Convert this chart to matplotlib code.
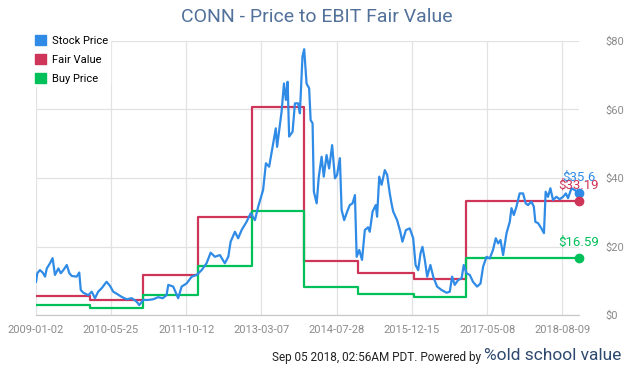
import matplotlib
matplotlib.use('Agg')
import matplotlib.pyplot as plt
from matplotlib.patches import Patch

plt.rcParams['font.family'] = ['Roboto', 'DejaVu Sans']

# eixo de categorias: um rótulo a cada 350 pontos
tick_pos = [0, 350, 700, 1050, 1400, 1750, 2100, 2450]
tick_labels = ['2009-01-02', '2010-05-25', '2011-10-12', '2013-03-07',
               '2014-07-28', '2015-12-15', '2017-05-08', '2018-08-09']

# preço da ação (índice, valor)
preco_idx = [2, 8, 20, 33, 44, 52, 67, 79, 90, 106, 117, 129, 145, 157, 168, 191, 203, 210,
             222, 245, 261, 276, 291, 307, 330, 346, 361, 380, 400, 423, 447, 470, 482, 501,
             524, 547, 570, 591, 609, 617, 640, 663, 679, 702, 726, 749, 772, 795, 814, 834,
             857, 880, 896, 907, 927, 942, 958, 981, 1000, 1020, 1035, 1058, 1071, 1086, 1105,
             1117, 1123, 1144, 1155, 1164, 1172, 1179, 1195, 1206, 1221, 1229, 1241, 1249,
             1260, 1272, 1279, 1288, 1294, 1307, 1317, 1330, 1340, 1353, 1365, 1379, 1392,
             1402, 1415, 1423, 1435, 1449, 1461, 1474, 1485, 1493, 1505, 1518, 1531, 1546,
             1554, 1567, 1582, 1588, 1598, 1609, 1624, 1635, 1647, 1655, 1663, 1681, 1694,
             1706, 1722, 1740, 1756, 1767, 1779, 1790, 1799, 1810, 1821, 1836, 1849, 1867,
             1888, 1911, 1926, 1937, 1949, 1965, 1981, 1991, 2004, 2019, 2034, 2053, 2069,
             2081, 2097, 2112, 2127, 2140, 2151, 2162, 2174, 2190, 2205, 2213, 2224, 2236,
             2251, 2267, 2279, 2290, 2306, 2317, 2324, 2337, 2352, 2364, 2372, 2383, 2394,
             2406, 2422, 2437, 2453, 2466, 2476, 2492, 2507, 2527]
preco = [9.7, 12.2, 13.1, 12.4, 11.2, 13.6, 15.1, 16.6, 11.7, 13.6, 12.2, 13.1, 14.6, 12.2,
         11.4, 11.2, 12.4, 7.3, 6.5, 5.8, 6.8, 4.9, 6.8, 7.8, 9.7, 8.5, 6.8, 6.1, 5.3, 4.6,
         4.9, 3.9, 2.9, 4.4, 4.4, 4.6, 5.2, 4.9, 5.8, 8.8, 8.3, 4.9, 8.3, 9.2, 11.2, 11.7,
         13.1, 15.1, 18.2, 17.0, 17.5, 15.1, 17.0, 21.4, 24.3, 22.4, 24.8, 27.2, 29.7, 27.7,
         31.6, 36.5, 44.3, 43.3, 50.1, 54.5, 49.1, 59.4, 67.6, 62.8, 68.1, 52.1, 53.5, 61.8,
         61.8, 58.9, 75.4, 77.6, 67.6, 66.2, 56.9, 56.0, 36.0, 32.6, 40.4, 46.2, 40.4, 46.7,
         42.8, 49.6, 39.9, 40.9, 45.8, 30.7, 27.7, 30.2, 32.1, 32.6, 35.0, 17.0, 19.0, 16.1,
         24.8, 25.6, 24.3, 30.2, 32.1, 28.7, 40.4, 38.0, 42.3, 40.9, 35.5, 32.6, 30.2, 27.7,
         24.8, 21.4, 24.8, 25.3, 22.4, 14.6, 13.1, 18.0, 19.9, 16.1, 11.2, 14.6, 11.2, 8.3,
         7.3, 6.5, 6.8, 11.2, 8.8, 10.2, 10.7, 14.6, 12.2, 11.7, 9.7, 8.3, 9.2, 14.1, 17.0,
         16.5, 19.0, 22.4, 20.9, 21.9, 17.5, 23.9, 27.2, 31.2, 29.2, 31.6, 35.5, 35.5, 32.6,
         32.1, 33.1, 31.6, 27.2, 26.8, 25.3, 23.9, 36.0, 34.5, 37.0, 33.6, 34.5, 33.8, 34.5,
         35.5, 34.1, 37.0, 36.5, 35.6]

# degraus do valor justo e do preço de compra
degrau_idx = [0, 253, 498, 755, 1006, 1247, 1498, 1759, 2000, 2527]
valor_justo = [5.5, 4.4, 11.7, 28.6, 60.8, 15.8, 12.2, 10.5, 33.19, 33.19]
preco_compra = [2.9, 2.0, 5.8, 14.3, 30.4, 8.1, 6.1, 5.3, 16.59, 16.59]

azul = '#2f8be6'
vermelho = '#cf3559'
verde = '#00c05a'

fig = plt.figure(figsize=(6.35, 3.66), dpi=100)
ax = fig.add_axes([35.6 / 635, 51 / 366, 543.4 / 635, 274 / 366])

ax.plot(preco_idx, preco, color=azul, lw=1.6, zorder=3)
ax.step(degrau_idx, valor_justo, where='post', color=vermelho, lw=1.6, zorder=2)
ax.step(degrau_idx, preco_compra, where='post', color=verde, lw=1.6, zorder=2)

# pontos finais com rótulo
for y, cor, txt in [(preco[-1], azul, '$35.6'), (valor_justo[-1], vermelho, '$33.19'),
                    (preco_compra[-1], verde, '$16.59')]:
    ax.plot(preco_idx[-1], y, 'o', color=cor, ms=6, clip_on=False, zorder=4)
    ax.annotate(txt, (preco_idx[-1], y), xytext=(0, 11.5), textcoords='offset points',
                ha='center', va='center', color=cor, fontsize=9.5, zorder=5)

ax.set_xlim(0, 2527)
ax.set_ylim(0, 80)
ax.set_xticks(tick_pos)
ax.set_xticklabels(tick_labels)
ax.set_yticks([0, 20, 40, 60, 80])
ax.set_yticklabels(['$0', '$20', '$40', '$60', '$80'])
ax.yaxis.tick_right()
ax.tick_params(axis='y', length=0, pad=19, labelsize=8, labelcolor='#8c8c8c')
ax.tick_params(axis='x', length=0, pad=7, labelsize=8, labelcolor='#8c8c8c')

ax.grid(True, color='#e2e2e2', lw=0.9)
ax.set_axisbelow(True)
for s in ['top', 'right', 'left']:
    ax.spines[s].set_visible(False)
ax.spines['bottom'].set_color('#c8c8c8')
ax.spines['bottom'].set_linewidth(0.9)

# legenda
handles = [Patch(color=azul, label='Stock Price'),
           Patch(color=vermelho, label='Fair Value'),
           Patch(color=verde, label='Buy Price')]
leg = fig.legend(handles=handles, loc='upper left', bbox_to_anchor=(33 / 635, 1 - 33 / 366),
                 frameon=True, facecolor='white', edgecolor='white', framealpha=1,
                 fontsize=8, handlelength=1.0, handleheight=1.0, handletextpad=0.5,
                 labelspacing=0.75, borderpad=0.2, borderaxespad=0)
leg.set_zorder(10)

fig.text(317 / 635, 1 - 17 / 366, 'CONN - Price to EBIT Fair Value', ha='center', va='center',
         fontsize=14, color='#52719a')

fig.text(481 / 635, 1 - 358 / 366, 'Sep 05 2018, 02:56AM PDT. Powered by', ha='right',
         va='center', fontsize=8.5, color='#222222')
fig.text(484 / 635, 1 - 355 / 366, '%old school value', ha='left', va='center',
         fontsize=12.5, color='#2d4a6e')

fig.savefig('out.png', dpi=100)
